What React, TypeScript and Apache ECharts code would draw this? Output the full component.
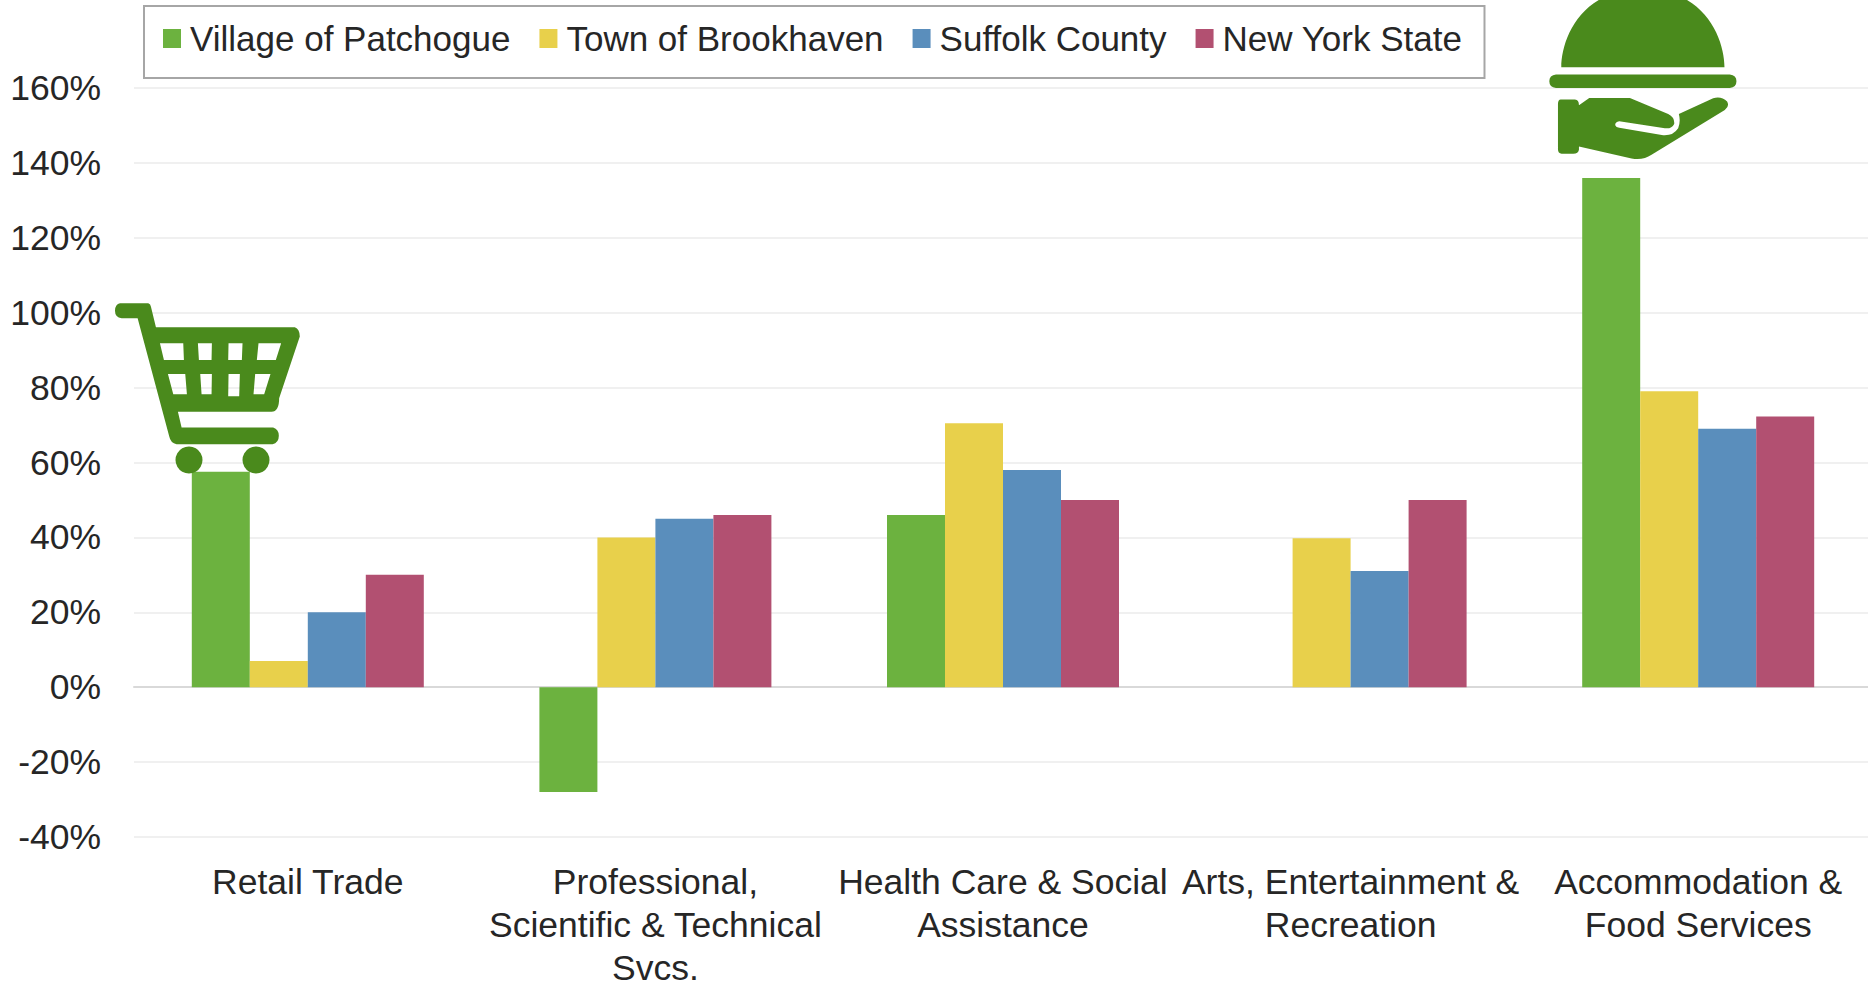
import React, { useEffect, useRef } from "react";
import * as echarts from "echarts";

const categories = [
  "Retail Trade",
  "Professional,\nScientific & Technical\nSvcs.",
  "Health Care & Social\nAssistance",
  "Arts, Entertainment &\nRecreation",
  "Accommodation &\nFood Services",
];
const seriesNames = ["Village of Patchogue", "Town of Brookhaven", "Suffolk County", "New York State"];
const seriesColors = ["#6cb23f", "#e8d04b", "#5a8ebc", "#b25071"];
const patchogue = [57.5, -28, 46, null, 136];
const brookhaven = [7, 40, 70.5, 39.8, 79];
const suffolk = [20, 45, 58, 31, 69];
const newYork = [30, 46, 50, 50, 72.3];
const iconColor = "#4a8a1c";
const font = "'Liberation Sans', Arial, sans-serif";

// Icon outlines, drawn at 3x and scaled down; window panes wind against the frame so they stay open.
const cartPath =
  "M60 70 L145 70 Q152 72 153 80 L168 142 L585 142 Q600 148 600 170 L538 355 Q538 395 515 396 L234 396 L245 443 L520 443 Q537 448 537 468 Q537 490 518 493 L230 493 Q212 490 208 470 L113 115 L65 115 Q45 112 45 92 Q46 72 60 70 Z " +
  "M180 190 L192 240 L252 240 L250 190 Z M294 190 L297 240 L335 240 L336 190 Z M386 190 L385 240 L426 240 L428 190 Z M476 190 L471 240 L528 240 L544 190 Z " +
  "M204 282 L220 343 L261 343 L256 282 Z M301 282 L305 343 L335 343 L336 282 Z M386 282 L385 349 L418 349 L420 282 Z M466 282 L461 343 L493 343 L512 282 Z";
const clochePath =
  "M94 202 C94 120 150 -33 339 -33 C528 -33 584 120 584 202 Z " +
  "M78 224 L600 224 Q620 226 620 244 Q620 262 600 264 L78 264 Q58 262 58 244 Q58 226 78 224 Z " +
  "M92 299 L135 299 Q147 300 147 316 L178 294 L300 294 L415 342 Q435 352 433 372 Q425 388 405 385 L268 364 Q255 366 256 376 Q258 382 268 384 L400 406 Q430 408 445 385 Q453 365 447 342 L550 295 Q575 288 592 305 Q600 320 585 330 L365 465 Q340 482 305 476 L147 440 L147 450 Q145 462 130 462 L95 462 Q84 460 84 448 L84 310 Q85 300 92 299 Z";

function registerIcon(name: string, d: string) {
  echarts.graphic.registerShape(name, (echarts.graphic as any).extendPath(d, {}));
}
registerIcon("cartIcon", cartPath);
registerIcon("clocheIcon", clochePath);

export default function App() {
  const ref = useRef<HTMLDivElement>(null);
  useEffect(() => {
    document.body.style.margin = "0";
    const chart = echarts.init(ref.current!, undefined, { renderer: "svg" });
    const values = [patchogue, brookhaven, suffolk, newYork];
    chart.setOption({
      animation: false,
      backgroundColor: "#ffffff",
      color: seriesColors,
      grid: { left: 134, right: -4, top: 88, bottom: 144, outerBoundsMode: "none" },
      legend: {
        data: seriesNames,
        left: 144,
        top: 6,
        itemWidth: 18,
        itemHeight: 19,
        itemGap: 29,
        padding: [15, 22, 22, 19],
        borderColor: "#a6a6a6",
        borderWidth: 2,
        icon: "rect",
        textStyle: { fontFamily: font, fontSize: 35, color: "#262626", padding: [0, 0, 3, 4] },
      },
      xAxis: {
        type: "category",
        data: categories,
        axisTick: { show: false },
        axisLine: { onZero: true, lineStyle: { color: "#d9d9d9", width: 2 } },
        axisLabel: {
          interval: 0,
          margin: 23,
          fontFamily: font,
          fontSize: 35.5,
          lineHeight: 43,
          color: "#262626",
          verticalAlign: "top",
        },
      },
      yAxis: {
        type: "value",
        min: -40,
        max: 160,
        interval: 20,
        axisLine: { show: false },
        axisTick: { show: false },
        splitLine: { lineStyle: { color: "#f0f0f0", width: 2 } },
        axisLabel: {
          margin: 33,
          fontFamily: font,
          fontSize: 35.5,
          color: "#262626",
          formatter: "{value}%",
        },
      },
      series: seriesNames.map((name, i) => ({
        name,
        type: "bar",
        data: values[i],
        barWidth: 58,
        barGap: 0,
      })),
      graphic: [
        { type: "cartIcon", x: 100, y: 280, scaleX: 1 / 3, scaleY: 1 / 3, z: 10, style: { fill: iconColor } },
        { type: "circle", shape: { cx: 189, cy: 460, r: 13.5 }, z: 10, style: { fill: iconColor } },
        { type: "circle", shape: { cx: 256, cy: 460, r: 13.5 }, z: 10, style: { fill: iconColor } },
        { type: "clocheIcon", x: 1530, y: 0, scaleX: 1 / 3, scaleY: 1 / 3, z: 10, style: { fill: iconColor } },
      ],
    });
    return () => chart.dispose();
  }, []);
  return <div ref={ref} style={{ width: 1868, height: 981 }} />;
}
